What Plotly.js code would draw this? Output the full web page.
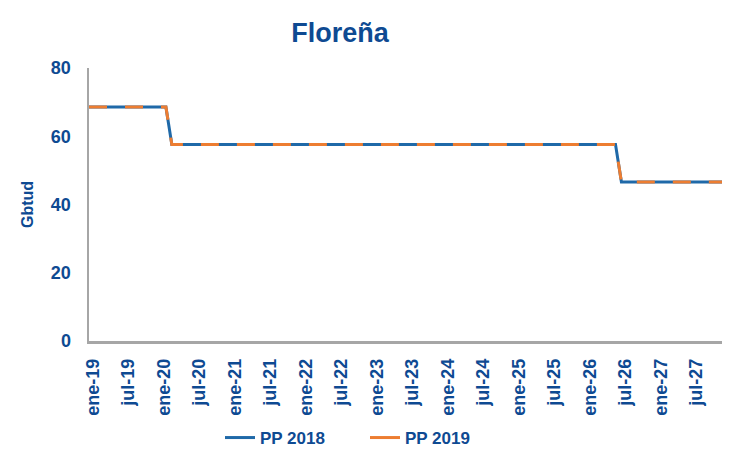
<!DOCTYPE html>
<html>
<head>
<meta charset="utf-8">
<script src="https://cdn.plot.ly/plotly-3.0.1.min.js"></script>
<style>
  html, body { margin: 0; padding: 0; background: #ffffff; }
  #chart { width: 734px; height: 449px; }
</style>
</head>
<body>
<div id="chart"></div>
<script>
// Monthly categories, ene-19 .. dic-27
const months = [
  "ene-19","feb-19","mar-19","abr-19","may-19","jun-19","jul-19","ago-19","sep-19","oct-19","nov-19","dic-19",
  "ene-20","feb-20","mar-20","abr-20","may-20","jun-20","jul-20","ago-20","sep-20","oct-20","nov-20","dic-20",
  "ene-21","feb-21","mar-21","abr-21","may-21","jun-21","jul-21","ago-21","sep-21","oct-21","nov-21","dic-21",
  "ene-22","feb-22","mar-22","abr-22","may-22","jun-22","jul-22","ago-22","sep-22","oct-22","nov-22","dic-22",
  "ene-23","feb-23","mar-23","abr-23","may-23","jun-23","jul-23","ago-23","sep-23","oct-23","nov-23","dic-23",
  "ene-24","feb-24","mar-24","abr-24","may-24","jun-24","jul-24","ago-24","sep-24","oct-24","nov-24","dic-24",
  "ene-25","feb-25","mar-25","abr-25","may-25","jun-25","jul-25","ago-25","sep-25","oct-25","nov-25","dic-25",
  "ene-26","feb-26","mar-26","abr-26","may-26","jun-26","jul-26","ago-26","sep-26","oct-26","nov-26","dic-26",
  "ene-27","feb-27","mar-27","abr-27","may-27","jun-27","jul-27","ago-27","sep-27","oct-27","nov-27","dic-27"
];

// PP 2018 (Gbtud)
const pp2018 = [
  68.6,68.6,68.6,68.6,68.6,68.6,68.6,68.6,68.6,68.6,68.6,68.6,
  68.6,68.6,57.6,57.6,57.6,57.6,57.6,57.6,57.6,57.6,57.6,57.6,
  57.6,57.6,57.6,57.6,57.6,57.6,57.6,57.6,57.6,57.6,57.6,57.6,
  57.6,57.6,57.6,57.6,57.6,57.6,57.6,57.6,57.6,57.6,57.6,57.6,
  57.6,57.6,57.6,57.6,57.6,57.6,57.6,57.6,57.6,57.6,57.6,57.6,
  57.6,57.6,57.6,57.6,57.6,57.6,57.6,57.6,57.6,57.6,57.6,57.6,
  57.6,57.6,57.6,57.6,57.6,57.6,57.6,57.6,57.6,57.6,57.6,57.6,
  57.6,57.6,57.6,57.6,57.6,57.6,46.6,46.6,46.6,46.6,46.6,46.6,
  46.6,46.6,46.6,46.6,46.6,46.6,46.6,46.6,46.6,46.6,46.6,46.6
];

// PP 2019 (Gbtud)
const pp2019 = [
  68.6,68.6,68.6,68.6,68.6,68.6,68.6,68.6,68.6,68.6,68.6,68.6,
  68.6,68.6,57.6,57.6,57.6,57.6,57.6,57.6,57.6,57.6,57.6,57.6,
  57.6,57.6,57.6,57.6,57.6,57.6,57.6,57.6,57.6,57.6,57.6,57.6,
  57.6,57.6,57.6,57.6,57.6,57.6,57.6,57.6,57.6,57.6,57.6,57.6,
  57.6,57.6,57.6,57.6,57.6,57.6,57.6,57.6,57.6,57.6,57.6,57.6,
  57.6,57.6,57.6,57.6,57.6,57.6,57.6,57.6,57.6,57.6,57.6,57.6,
  57.6,57.6,57.6,57.6,57.6,57.6,57.6,57.6,57.6,57.6,57.6,57.6,
  57.6,57.6,57.6,57.6,57.6,57.6,46.6,46.6,46.6,46.6,46.6,46.6,
  46.6,46.6,46.6,46.6,46.6,46.6,46.6,46.6,46.6,46.6,46.6,46.6
];

// Tick labels shown on the x axis (every 6 months)
const xTickLabels = [
  "ene-19","jul-19","ene-20","jul-20","ene-21","jul-21","ene-22","jul-22","ene-23",
  "jul-23","ene-24","jul-24","ene-25","jul-25","ene-26","jul-26","ene-27","jul-27"
];
const yTicks = [0, 20, 40, 60, 80];
const seriesNames = ["PP 2018", "PP 2019"];

const textBlue = "#0E4A92";
const blue = "#1F69A8";
const orange = "#ED7D31";
const fontFam = "Liberation Sans, Arial, sans-serif";

const traces = [
  {
    x: months, y: pp2018, type: "scatter", mode: "lines", name: seriesNames[0],
    line: { color: blue, width: 3 }, showlegend: false
  },
  {
    x: months, y: pp2019, type: "scatter", mode: "lines", name: seriesNames[1],
    line: { color: orange, width: 3, dash: "18px,18px" }, showlegend: false
  },
  // legend keys (solid samples, as in the reference legend)
  {
    x: [null], y: [null], type: "scatter", mode: "lines", name: seriesNames[0],
    line: { color: blue, width: 3 }, showlegend: true
  },
  {
    x: [null], y: [null], type: "scatter", mode: "lines", name: seriesNames[1],
    line: { color: orange, width: 3 }, showlegend: true
  }
];

const layout = {
  width: 734, height: 449,
  margin: { l: 89, r: 12, t: 68, b: 108 },
  paper_bgcolor: "#ffffff", plot_bgcolor: "#ffffff",
  showlegend: true,
  title: {
    text: "Floreña",
    font: { family: fontFam, size: 27, weight: 700, color: textBlue },
    x: 340 / 734, xanchor: "center", xref: "container",
    y: 1 - 33 / 449, yanchor: "middle", yref: "container"
  },
  xaxis: {
    type: "category",
    automargin: false,
    range: [0, months.length - 1],
    tickmode: "array",
    tickvals: xTickLabels,
    ticktext: xTickLabels,
    tickangle: -90,
    tickfont: { family: fontFam, size: 18, weight: 700, color: textBlue },
    showgrid: false, zeroline: false,
    showline: true, linecolor: "#A6A6A6", linewidth: 2.5,
    ticks: "", ticklabelstandoff: 8,
    ticklabelshift: 4
  },
  yaxis: {
    automargin: false,
    range: [0, 80],
    tickmode: "array", tickvals: yTicks, ticktext: yTicks.map(String),
    tickfont: { family: fontFam, size: 18, weight: 700, color: textBlue },
    showgrid: false, zeroline: false,
    showline: true, linecolor: "#A6A6A6", linewidth: 2.5,
    ticks: "", ticklabelstandoff: 12,
    title: {
      text: "Gbtud",
      font: { family: fontFam, size: 16, weight: 700, color: textBlue },
      standoff: 14
    }
  },
  legend: {
    orientation: "h",
    x: 365 / 734, xanchor: "center", xref: "container",
    y: 1 - 438 / 449, yanchor: "middle", yref: "container",
    font: { family: fontFam, size: 17, weight: 700, color: textBlue },
    itemwidth: 30, tracegroupgap: 0,
    entrywidth: 100, entrywidthmode: "pixels"
  }
};

Plotly.newPlot("chart", traces, layout, { displayModeBar: false, staticPlot: true });
</script>
</body>
</html>
